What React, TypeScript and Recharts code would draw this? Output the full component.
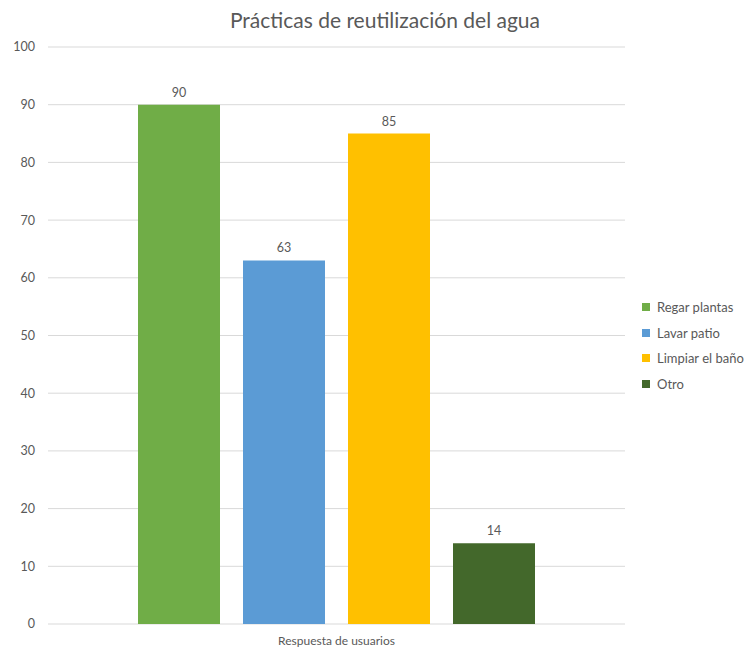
import React from 'react';
import { BarChart, Bar, XAxis, YAxis, CartesianGrid, Legend, LabelList } from 'recharts';

const CATEGORIES = ['Respuesta de usuarios'];
const SERIES_NAMES = ['Regar plantas', 'Lavar patio', 'Limpiar el baño', 'Otro'];
const SERIES_VALUES = [90, 63, 85, 14];
const Y_TICKS = [0, 10, 20, 30, 40, 50, 60, 70, 80, 90, 100];

const COLORS = ['#70AD47', '#5B9BD5', '#FFC000', '#43682B'];
const FONT = 'Lato, "Open Sans", sans-serif';
const TEXT = '#595959';

const chartData = CATEGORIES.map((name) => {
  const row: Record<string, string | number> = { name };
  SERIES_NAMES.forEach((s, i) => {
    row[s] = SERIES_VALUES[i];
  });
  return row;
});

const LegendContent = () => (
  <div style={{ fontFamily: FONT, fontSize: 13, color: TEXT }}>
    {SERIES_NAMES.map((s, i) => (
      <div key={s} style={{ display: 'flex', alignItems: 'center', height: 25.7 }}>
        <span style={{ width: 8, height: 8, background: COLORS[i], marginRight: 7 }} />
        <span>{s}</span>
      </div>
    ))}
  </div>
);

const App: React.FC = () => {
  return (
    <div style={{ position: 'absolute', left: 0, top: 0, width: 756, height: 651, background: '#fff' }}>
      <div
        style={{
          position: 'absolute',
          left: 0,
          width: 770,
          top: 7,
          textAlign: 'center',
          fontFamily: FONT,
          fontSize: 21,
          color: TEXT,
        }}
      >
        Prácticas de reutilización del agua
      </div>
      <BarChart
        width={756}
        height={651}
        data={chartData}
        margin={{ top: 47, right: 17, bottom: 0, left: 0 }}
        barSize={82}
        barGap={23}
      >
        <CartesianGrid vertical={false} stroke="#D9D9D9" />
        <XAxis
          dataKey="name"
          axisLine={false}
          tickLine={false}
          height={27}
          tick={{ fill: TEXT, fontSize: 12, fontFamily: FONT }}
          tickMargin={6}
        />
        <YAxis
          domain={[0, 100]}
          ticks={Y_TICKS}
          width={48}
          axisLine={false}
          tickLine={false}
          tickMargin={7}
          tick={{ fill: TEXT, fontSize: 12.5, fontFamily: FONT }}
        />
        <Legend
          layout="vertical"
          align="right"
          verticalAlign="top"
          content={<LegendContent />}
          wrapperStyle={{ left: 642, top: 294, width: 114 }}
        />
        {SERIES_NAMES.map((s, i) => (
          <Bar key={s} dataKey={s} fill={COLORS[i]} isAnimationActive={false}>
            <LabelList
              dataKey={s}
              position="top"
              offset={8}
              style={{ fill: TEXT, fontSize: 12.5, fontFamily: FONT }}
            />
          </Bar>
        ))}
      </BarChart>
    </div>
  );
};

export default App;
